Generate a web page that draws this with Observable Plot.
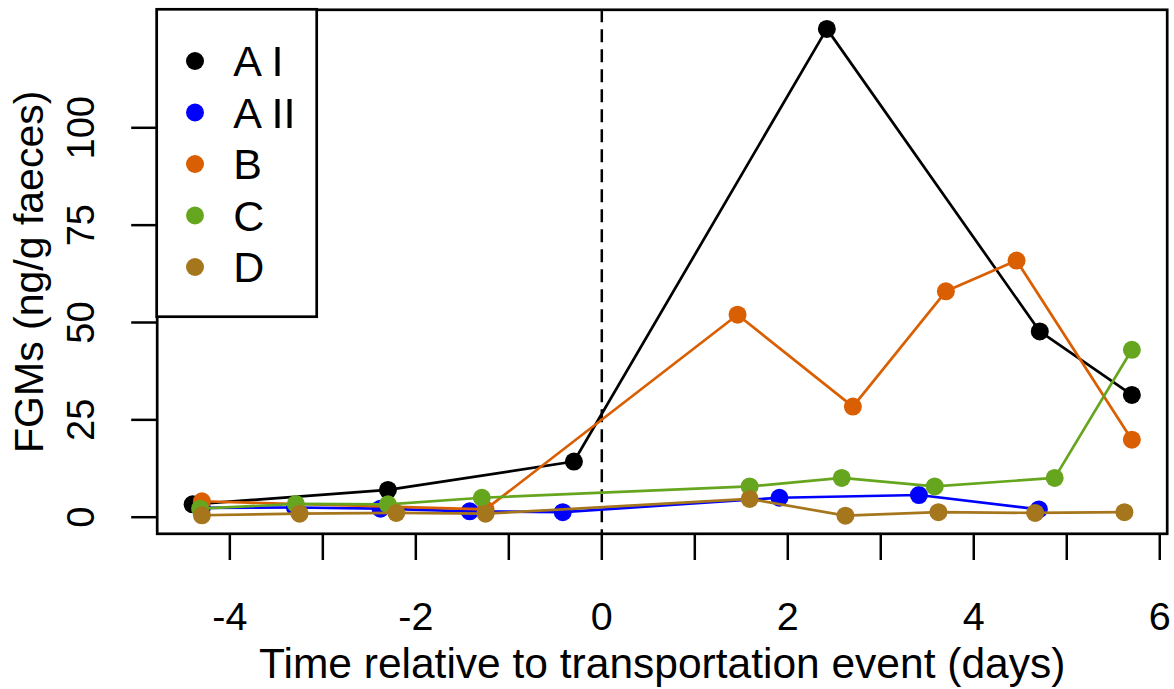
<!DOCTYPE html>
<html>
<head>
<meta charset="utf-8">
<script src="https://cdn.jsdelivr.net/npm/d3@7"></script>
<script src="https://cdn.jsdelivr.net/npm/@observablehq/plot@0.6"></script>
<style>
  html, body { margin: 0; padding: 0; background: white; }
  #wrap { position: relative; width: 1174px; height: 689px; }
  #legend { position: absolute; left: 0; top: 0; pointer-events: none; }
</style>
</head>
<body>
<div id="wrap"></div>
<script>
// ---- data ----
const seriesNames = ["A I", "A II", "B", "C", "D"];
const seriesColors = ["#000000", "#0000FF", "#D95F02", "#66A61E", "#A6761D"];

const daysAI  = [-4.40, -2.30, -0.30, 2.42, 4.71, 5.70];
const fgmAI   = [3.3, 7.0, 14.3, 125.4, 47.7, 31.4];

const daysAII = [-4.30, -3.30, -2.38, -1.42, -0.42, 1.91, 3.41, 4.70];
const fgmAII  = [2.4, 2.5, 2.2, 1.5, 1.3, 5.0, 5.7, 2.0];

const daysB   = [-4.30, -1.25, 1.46, 2.70, 3.70, 4.46, 5.70];
const fgmB    = [4.1, 2.0, 52.0, 28.4, 58.0, 65.9, 19.9];

const daysC   = [-4.32, -3.29, -2.30, -1.29, 1.59, 2.58, 3.58, 4.87, 5.70];
const fgmC    = [2.2, 3.4, 3.3, 5.0, 7.9, 10.1, 7.9, 10.1, 43.0];

const daysD   = [-4.30, -3.25, -2.21, -1.25, 1.59, 2.62, 3.62, 4.66, 5.62];
const fgmD    = [0.5, 0.9, 1.1, 0.9, 4.7, 0.4, 1.3, 1.1, 1.3];

const xTicks = [-4, -3, -2, -1, 0, 1, 2, 3, 4, 5, 6];
const xTickLabels = [-4, -2, 0, 2, 4, 6];
const yTicks = [0, 25, 50, 75, 100];
const xTitle = "Time relative to transportation event (days)";
const yTitle = "FGMs (ng/g faeces)";

// ---- build table ----
const allDays = [daysAI, daysAII, daysB, daysC, daysD];
const allFgm = [fgmAI, fgmAII, fgmB, fgmC, fgmD];
const rows = [];
seriesNames.forEach((s, i) => {
  allDays[i].forEach((d, j) => rows.push({series: s, day: d, fgm: allFgm[i][j]}));
});

const W = 1174, H = 689;
const mLeft = 156.7, mRight = 7.3, mTop = 9.3, mBottom = 155.7;
const font = "'Liberation Sans', Arial, Helvetica, sans-serif";

const seriesMarks = [];
seriesNames.forEach(s => {
  const d = rows.filter(r => r.series === s);
  seriesMarks.push(Plot.line(d, {x: "day", y: "fgm", stroke: "series", strokeWidth: 2.7}));
  seriesMarks.push(Plot.dot(d, {x: "day", y: "fgm", fill: "series", r: 9, stroke: "none"}));
});

const chart = Plot.plot({
  width: W, height: H,
  marginLeft: mLeft, marginRight: mRight, marginTop: mTop, marginBottom: mBottom,
  style: {fontFamily: font, fontSize: "39px", background: "white", color: "black"},
  x: {domain: [-4.781, 6.080], label: null},
  y: {domain: [-4.26, 130.3], label: null},
  color: {domain: seriesNames, range: seriesColors},
  marks: [
    Plot.ruleX([0], {strokeDasharray: "13,7", strokeWidth: 2.5, stroke: "black"}),
    ...seriesMarks,
    Plot.frame({stroke: "black", strokeWidth: 2.7}),
    Plot.axisX({ticks: xTicks, tickSize: 26.7, tickPadding: 41.7, strokeWidth: 2.5,
      tickFormat: d => xTickLabels.includes(d) ? String(d) : "", fontSize: 39.5, label: null}),
    Plot.axisY({ticks: yTicks, tickSize: 25.5, strokeWidth: 2.5, tickFormat: () => "", label: null}),
    Plot.text(yTicks, {y: d => d, text: d => String(d), frameAnchor: "left", dx: -75.7,
      rotate: -90, textAnchor: "middle", lineAnchor: "middle", fontSize: 38, fill: "black"}),
    Plot.text([yTitle], {frameAnchor: "left", dx: -127, rotate: -90, textAnchor: "middle",
      lineAnchor: "middle", fontSize: 41, fill: "black"}),
    Plot.text([xTitle], {frameAnchor: "bottom", dy: 130.7, textAnchor: "middle",
      lineAnchor: "middle", fontSize: 42.5, fill: "black"})
  ]
});
document.getElementById("wrap").appendChild(chart);

// ---- legend overlay (inside the top-left of the frame) ----
const ns = "http://www.w3.org/2000/svg";
const lg = document.createElementNS(ns, "svg");
lg.setAttribute("id", "legend");
lg.setAttribute("width", W);
lg.setAttribute("height", H);
const box = document.createElementNS(ns, "rect");
box.setAttribute("x", 156.7); box.setAttribute("y", 9.3);
box.setAttribute("width", 160); box.setAttribute("height", 307.4);
box.setAttribute("fill", "white"); box.setAttribute("stroke", "black");
box.setAttribute("stroke-width", 2.7);
lg.appendChild(box);
seriesNames.forEach((s, i) => {
  const cy = 61 + i * 51.5;
  const c = document.createElementNS(ns, "circle");
  c.setAttribute("cx", 195); c.setAttribute("cy", cy); c.setAttribute("r", 9);
  c.setAttribute("fill", seriesColors[i]);
  lg.appendChild(c);
  const t = document.createElementNS(ns, "text");
  t.setAttribute("x", 233.3); t.setAttribute("y", cy); t.setAttribute("dy", "0.36em");
  t.setAttribute("font-family", font); t.setAttribute("font-size", 43);
  t.setAttribute("fill", "black");
  t.textContent = s;
  lg.appendChild(t);
});
document.getElementById("wrap").appendChild(lg);
</script>
</body>
</html>
